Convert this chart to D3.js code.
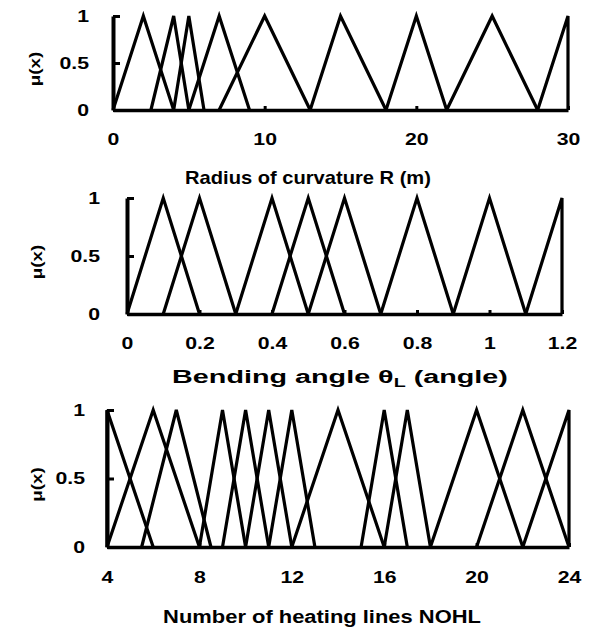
<!DOCTYPE html>
<html>
<head>
<meta charset="utf-8">
<script src="https://cdn.jsdelivr.net/npm/d3@7"></script>
<style>
  body { margin: 0; background: #fff; }
  svg { display: block; }
  text { font-family: "Liberation Sans", Arial, sans-serif; font-weight: bold; fill: #000; }
</style>
</head>
<body>
<svg id="chart" width="592" height="627"></svg>
<script>
// membership functions: [start, peak, end] of each triangle
const radiusTicks = [0, 10, 20, 30];
const radiusSets = [[0, 2, 4], [2.5, 4, 5], [4, 5, 6], [5, 7, 9], [7, 10, 13],
                    [13, 15, 18], [18, 20, 22], [22, 25, 28], [28, 30, 30]];

const angleTicks = [0, 0.2, 0.4, 0.6, 0.8, 1, 1.2];
const angleSets = [[0, 0.1, 0.2], [0.1, 0.2, 0.3], [0.3, 0.4, 0.5], [0.4, 0.5, 0.6],
                   [0.5, 0.6, 0.7], [0.7, 0.8, 0.9], [0.9, 1.0, 1.1], [1.1, 1.2, 1.2]];

const nohlTicks = [4, 8, 12, 16, 20, 24];
const nohlSets = [[4, 4, 6], [4, 6, 8], [5.5, 7, 8.5], [8, 9, 10], [9, 10, 11], [10, 11, 12],
                  [11, 12, 13], [12, 14, 16], [15, 16, 17], [16, 17, 18], [18, 20, 22],
                  [20, 22, 24], [22, 24, 24]];

const muTicks = [0, 0.5, 1];

const stretch = 1.25;   // the original lettering is wide
const fontSize = 17;

const svg = d3.select('#chart');

// stretch a text to a given width around its anchor
const fitWidth = (sel, cx, cy, w) => {
    let natural = sel.node().getComputedTextLength();
    sel.attr('transform', `translate(${cx}, ${cy}) scale(${w / natural},1)`);
};

const drawPanel = (p) => {
    const x = d3.scaleLinear().domain(p.domain).range([p.left, p.right]);
    const y = d3.scaleLinear().domain([0, 1]).range([p.bottom, p.top]);
    const g = svg.append('g');

    const line = d3.line().x(d => x(d[0])).y(d => y(d[1]));
    g.selectAll('path.mf')
        .data(p.sets)
        .enter()
        .append('path')
        .attr('class', 'mf')
        .attr('d', d => line([[d[0], 0], [d[1], 1], [d[2], 0]]))
        .attr('fill', 'none')
        .attr('stroke', '#000')
        .attr('stroke-width', 3.2)
        .attr('stroke-linejoin', 'miter');

    const xAxis = d3.axisBottom(x)
        .tickValues(p.ticks)
        .tickFormat(d => d)
        .tickSizeInner(-4)
        .tickSizeOuter(0)
        .tickPadding(p.pad);
    const gx = g.append('g')
        .attr('transform', `translate(0, ${p.bottom})`)
        .call(xAxis)
        .attr('font-family', null);
    gx.select('.domain').attr('stroke-width', 3.5);
    gx.selectAll('.tick line').attr('stroke-width', 3);
    gx.selectAll('text')
        .attr('font-size', fontSize)
        .attr('transform', `scale(${stretch},1)`);

    const yAxis = d3.axisLeft(y)
        .tickValues(muTicks)
        .tickFormat(d => d)
        .tickSizeInner(-7)
        .tickSizeOuter(0)
        .tickPadding(p.ypad / stretch);
    const gy = g.append('g')
        .attr('transform', `translate(${p.left}, 0)`)
        .call(yAxis)
        .attr('font-family', null);
    gy.select('.domain').attr('stroke-width', 4);
    gy.selectAll('.tick line').attr('stroke-width', 3);
    gy.selectAll('text')
        .attr('font-size', fontSize)
        .attr('transform', `scale(${stretch},1)`);

    // y title
    g.append('text')
        .attr('transform', `translate(${p.muX}, ${(p.top + p.bottom) / 2 + 6}) rotate(-90) scale(${stretch},1)`)
        .attr('text-anchor', 'middle')
        .attr('font-size', 15)
        .text('μ(x)');

    // x title
    const t = g.append('text')
        .attr('text-anchor', 'middle')
        .attr('font-size', p.titleSize);
    p.title(t);
    fitWidth(t, p.titleX, p.titleY, p.titleW);
};

drawPanel({
    domain: [0, 30], left: 113, right: 568, top: 16, bottom: 110,
    sets: radiusSets, ticks: radiusTicks, pad: 23, ypad: 24, muX: 40,
    titleX: 308, titleY: 184, titleW: 246, titleSize: 18,
    title: t => t.text('Radius of curvature R (m)')
});

drawPanel({
    domain: [0, 1.2], left: 127, right: 562, top: 198, bottom: 314,
    sets: angleSets, ticks: angleTicks, pad: 23, ypad: 27, muX: 42,
    titleX: 340, titleY: 383, titleW: 336, titleSize: 19,
    title: t => {
        t.append('tspan').text('Bending angle θ');
        t.append('tspan').attr('font-size', 13).attr('dy', 4).text('L');
        t.append('tspan').attr('dy', -4).text(' (angle)');
    }
});

drawPanel({
    domain: [4, 24], left: 107, right: 569, top: 410, bottom: 547,
    sets: nohlSets, ticks: nohlTicks, pad: 24, ypad: 22, muX: 42,
    titleX: 322, titleY: 623, titleW: 318, titleSize: 18,
    title: t => t.text('Number of heating lines NOHL')
});
</script>
</body>
</html>
